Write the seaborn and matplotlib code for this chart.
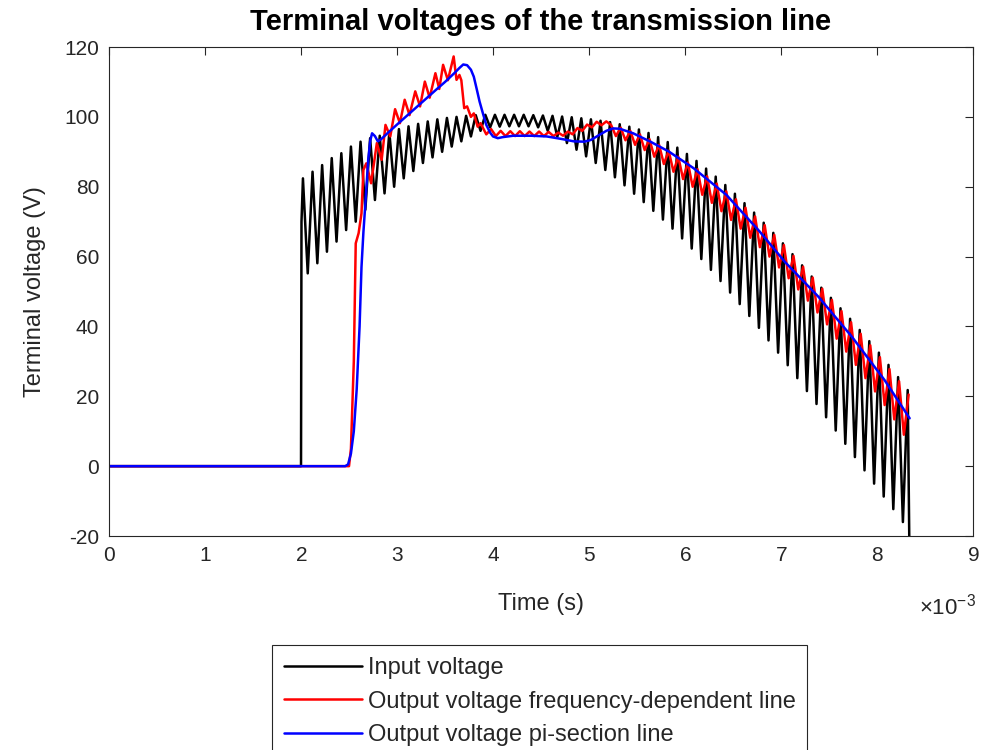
import numpy as np
import pandas as pd
import seaborn as sns
import matplotlib.pyplot as plt
from matplotlib.ticker import ScalarFormatter

# input voltage: peaks / troughs of the 10 kHz ripple (ms, V)
input_peak_v = [82.4, 84.3, 86.2, 88.2, 89.6, 91.5, 92.9, 93.9, 94.6, 95.6,
                96.5, 97.3, 98.0, 98.7, 99.3, 99.7, 100.0, 100.3, 100.5, 100.6,
                100.6, 100.6, 100.6, 100.6, 100.5, 100.4, 100.3, 100.1, 99.9, 99.6,
                99.3, 98.9, 98.5, 97.9, 97.2, 96.4, 95.4, 94.2, 92.8, 91.2,
                89.4, 87.4, 85.2, 82.9, 80.5, 78.0, 75.3, 72.6, 69.7, 66.8,
                63.8, 60.7, 57.5, 54.3, 51.1, 48.2, 45.2, 42.2, 39.0, 35.8,
                32.5, 29.0, 25.5, 21.8]
input_trough_v = [55.2, 58.1, 61.4, 64.3, 67.6, 70.0, 73.4, 76.2, 78.1, 80.0,
                  82.4, 84.5, 86.8, 88.4, 90.0, 91.5, 93.0, 94.4, 96.0, 97.0,
                  97.2, 97.3, 97.3, 97.3, 97.0, 96.0, 94.3, 92.5, 90.6, 88.7,
                  86.8, 84.8, 82.7, 80.4, 78.0, 75.6, 73.1, 70.6, 68.0, 65.2,
                  62.3, 59.3, 56.2, 53.0, 49.7, 46.4, 43.0, 39.6, 36.0, 32.5,
                  28.9, 25.2, 21.5, 17.8, 14.0, 10.2, 6.4, 2.6, -1.2, -5.0,
                  -8.7, -12.3, -16.0]
ripple_start = 2.02   # ms, first ripple peak
ripple_step = 0.05    # ms, peak-to-trough spacing

# frequency-dependent line output (ms, V)
fd_t = [0.0, 2.50, 2.52, 2.55, 2.57, 2.60, 2.63, 2.65, 2.68, 2.73,
        2.79, 2.84, 2.88, 2.93, 2.98, 3.03, 3.08, 3.13, 3.19, 3.24,
        3.29, 3.34, 3.40, 3.44, 3.48, 3.53, 3.59, 3.62, 3.65, 3.67,
        3.70, 3.73, 3.77, 3.80, 3.84, 3.87, 3.93, 3.98, 4.03, 4.08,
        4.13, 4.18, 4.23, 4.28, 4.33, 4.38, 4.43, 4.48, 4.53, 4.58,
        4.63, 4.68, 4.73, 4.78, 4.83, 4.88, 4.93, 4.98, 5.03, 5.08,
        5.13, 5.18, 5.23, 5.28, 5.33, 5.38, 5.43, 5.48, 5.53, 5.58,
        5.63, 5.68, 5.73, 5.78, 5.83, 5.88, 5.93, 5.98, 6.03, 6.08,
        6.13, 6.18, 6.23, 6.28, 6.33, 6.38, 6.43, 6.48, 6.53, 6.58,
        6.63, 6.68, 6.73, 6.78, 6.83, 6.88, 6.93, 6.98, 7.03, 7.08,
        7.13, 7.18, 7.23, 7.28, 7.33, 7.38, 7.43, 7.48, 7.53, 7.58,
        7.63, 7.68, 7.73, 7.78, 7.83, 7.88, 7.93, 7.98, 8.03, 8.08,
        8.13, 8.18, 8.23, 8.28, 8.33]
fd_v = [0.0, 0.0, 5.0, 30.0, 63.8, 66.7, 72.4, 84.8, 86.7, 81.0,
        92.5, 87.7, 97.7, 94.4, 102.2, 98.2, 104.9, 100.5, 107.3, 103.0,
        110.1, 105.5, 112.5, 108.0, 114.9, 110.5, 117.3, 110.6, 112.0, 110.5,
        102.5, 103.0, 100.0, 101.0, 97.2, 98.2, 95.0, 96.5, 94.5, 96.0,
        94.5, 95.9, 94.5, 95.9, 94.5, 95.8, 94.5, 95.8, 94.5, 95.7,
        94.5, 95.5, 94.6, 95.8, 95.0, 96.8, 96.0, 97.8, 97.0, 98.6,
        97.6, 98.7, 97.7, 94.5, 96.9, 93.3, 96.0, 92.0, 95.0, 90.5,
        93.6, 88.6, 92.0, 86.5, 90.3, 84.3, 88.6, 82.2, 86.9, 80.0,
        85.0, 77.7, 83.0, 75.4, 80.9, 73.0, 78.7, 70.5, 76.4, 68.0,
        74.0, 65.4, 71.5, 62.7, 69.0, 60.0, 66.2, 56.9, 63.3, 53.8,
        60.2, 50.6, 57.1, 47.4, 54.0, 44.0, 50.8, 40.6, 47.6, 36.5,
        44.4, 32.8, 41.2, 29.0, 37.9, 25.2, 34.6, 21.4, 31.2, 17.5,
        27.8, 13.4, 24.3, 9.0, 20.5]

# pi-section line output (ms, V)
pi_t = [0.0, 2.46, 2.49, 2.52, 2.55, 2.58, 2.61, 2.63, 2.65, 2.67,
        2.70, 2.72, 2.74, 2.77, 2.80, 2.83, 2.90, 3.00, 3.20, 3.40,
        3.50, 3.60, 3.65, 3.69, 3.73, 3.77, 3.80, 3.83, 3.86, 3.90,
        3.93, 3.97, 4.00, 4.05, 4.10, 4.21, 4.40, 4.56, 4.73, 4.84,
        4.95, 5.02, 5.10, 5.18, 5.25, 5.32, 5.46, 5.64, 5.83, 6.09,
        6.43, 6.78, 7.04, 7.39, 7.74, 8.08, 8.34]
pi_v = [0.0, 0.0, 0.5, 3.6, 10.0, 22.0, 40.0, 57.0, 67.0, 75.0,
        87.7, 93.0, 95.3, 94.5, 93.0, 93.5, 95.3, 97.8, 102.7, 107.6,
        110.0, 112.6, 114.0, 115.0, 114.8, 113.5, 111.5, 108.0, 104.4, 100.5,
        97.7, 95.5, 94.4, 93.9, 94.2, 94.6, 94.6, 94.4, 93.6, 93.0,
        92.9, 93.4, 94.7, 96.0, 96.7, 96.6, 95.3, 92.9, 90.1, 85.3,
        77.7, 67.1, 58.5, 48.5, 37.0, 24.6, 13.7]

labels = ["Input voltage",
          "Output voltage frequency-dependent line",
          "Output voltage pi-section line"]
colors = ["black", "red", "blue"]

# assemble the input trace: flat zero, step at 2 ms, ripple, final drop
ripple_v = []
for i, p in enumerate(input_peak_v):
    ripple_v.append(p)
    if i < len(input_trough_v):
        ripple_v.append(input_trough_v[i])
ripple_t = list(ripple_start + ripple_step * np.arange(len(ripple_v)))
in_t = [0.0, 2.0, 2.005] + ripple_t + [ripple_t[-1] + 0.02]
in_v = [0.0, 0.0, 70.0] + ripple_v + [-30.0]

frames = []
for t, v, name in [(in_t, in_v, labels[0]), (fd_t, fd_v, labels[1]), (pi_t, pi_v, labels[2])]:
    frames.append(pd.DataFrame({"time": np.array(t) * 1e-3, "voltage": v, "series": name}))
df = pd.concat(frames, ignore_index=True)

sns.set_theme(style="white")
plt.rcParams["font.family"] = ["Liberation Sans", "DejaVu Sans"]
plt.rcParams["mathtext.fontset"] = "custom"
plt.rcParams["mathtext.rm"] = "Liberation Sans"
plt.rcParams["axes.unicode_minus"] = False

dark = "#262626"
fig = plt.figure(figsize=(9.84, 7.5), dpi=100)
ax = fig.add_axes([0.1108, 0.2853, 0.878, 0.652])

for name, col in zip(labels, colors):
    sns.lineplot(data=df[df["series"] == name], x="time", y="voltage",
                 color=col, linewidth=1.8, label=name, sort=False,
                 estimator=None, ax=ax)

ax.set_xlim(0, 9e-3)
ax.set_ylim(-20, 120)
ax.set_xticks(np.arange(0, 10) * 1e-3)
ax.set_yticks(range(-20, 121, 20))
fmt = ScalarFormatter(useMathText=True)
fmt.set_powerlimits((0, 0))
ax.xaxis.set_major_formatter(fmt)
ax.xaxis.get_offset_text().set_visible(False)
ax.text(1.003, -0.145, r"$\times 10^{-3}$", transform=ax.transAxes,
        ha="right", va="center", fontsize=16, color=dark)

ax.tick_params(direction="in", length=6, width=0.8, labelsize=15,
               colors=dark, top=True, right=True, pad=7)
for s in ax.spines.values():
    s.set_color(dark)
    s.set_linewidth(0.8)

ax.set_xlabel("Time (s)", fontsize=17, color=dark, labelpad=20)
ax.set_ylabel("Terminal voltage (V)", fontsize=17, color=dark, labelpad=13)
ax.set_title("Terminal voltages of the transmission line", fontsize=21,
             fontweight="bold", pad=12, color="black")

leg = ax.legend(loc="upper center", bbox_to_anchor=(0.5485, 0.14),
                bbox_transform=fig.transFigure, fontsize=17, frameon=True,
                fancybox=False, framealpha=1, edgecolor=dark,
                handlelength=3.3, labelspacing=0.5, borderpad=0.5,
                handletextpad=0.25, borderaxespad=0)
leg.get_frame().set_linewidth(0.8)

fig.savefig("out.png", dpi=100)
